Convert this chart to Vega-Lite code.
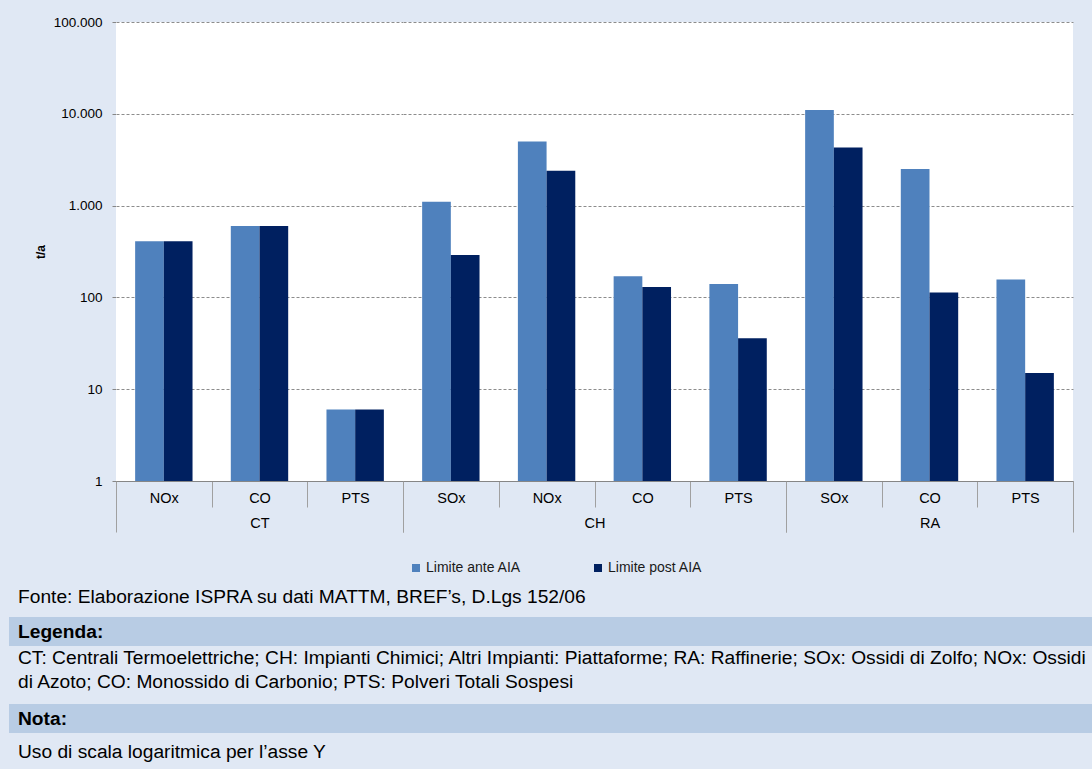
{
  "$schema": "https://vega.github.io/schema/vega-lite/v6.json",
  "background": "#e0e8f4",
  "padding": {"left": 9, "top": 15, "right": 0, "bottom": 0},
  "datasets": {
    "bars": [
      {"grp": "CT", "pol": "NOx", "serie": "Limite ante AIA", "val": 410},
      {"grp": "CT", "pol": "NOx", "serie": "Limite post AIA", "val": 410},
      {"grp": "CT", "pol": "CO", "serie": "Limite ante AIA", "val": 600},
      {"grp": "CT", "pol": "CO", "serie": "Limite post AIA", "val": 600},
      {"grp": "CT", "pol": "PTS", "serie": "Limite ante AIA", "val": 6},
      {"grp": "CT", "pol": "PTS", "serie": "Limite post AIA", "val": 6},
      {"grp": "CH", "pol": "SOx", "serie": "Limite ante AIA", "val": 1100},
      {"grp": "CH", "pol": "SOx", "serie": "Limite post AIA", "val": 290},
      {"grp": "CH", "pol": "NOx", "serie": "Limite ante AIA", "val": 5000},
      {"grp": "CH", "pol": "NOx", "serie": "Limite post AIA", "val": 2400},
      {"grp": "CH", "pol": "CO", "serie": "Limite ante AIA", "val": 170},
      {"grp": "CH", "pol": "CO", "serie": "Limite post AIA", "val": 130},
      {"grp": "CH", "pol": "PTS", "serie": "Limite ante AIA", "val": 140},
      {"grp": "CH", "pol": "PTS", "serie": "Limite post AIA", "val": 36},
      {"grp": "RA", "pol": "SOx", "serie": "Limite ante AIA", "val": 11000},
      {"grp": "RA", "pol": "SOx", "serie": "Limite post AIA", "val": 4300},
      {"grp": "RA", "pol": "CO", "serie": "Limite ante AIA", "val": 2500},
      {"grp": "RA", "pol": "CO", "serie": "Limite post AIA", "val": 113},
      {"grp": "RA", "pol": "PTS", "serie": "Limite ante AIA", "val": 157},
      {"grp": "RA", "pol": "PTS", "serie": "Limite post AIA", "val": 15}
    ]
  },
  "config": {
    "font": "Liberation Sans",
    "view": {"stroke": null},
    "axis": {"labelFont": "Liberation Sans", "titleFont": "Liberation Sans", "labelColor": "#000000", "titleColor": "#000000"},
    "axisX": {"titleY": 42, "titleBaseline": "middle", "titleFontWeight": "normal", "titleFontSize": 14.5,
      "labelAngle": 0, "labelFontSize": 14.5, "labelBaseline": "middle", "labelPadding": -34,
      "tickSize": 51, "tickBand": "extent", "tickColor": "#a0a0a0", "domainColor": "#868686", "grid": false,
      "tickDash": {"condition": {"test": "datum.index === 1 || datum.extra", "value": [60, 1]}, "value": [26, 60]}},
    "axisY": {"title": null, "labels": false, "ticks": false, "domain": false,
      "grid": true, "gridDash": [3, 2], "gridColor": "#8c8c8c"},
    "legend": {"labelFont": "Liberation Sans"}
  },
  "spacing": 44,
  "vconcat": [
    {
      "spacing": 0,
      "bounds": "flush",
      "hconcat": [
        {
          "width": 107, "height": 459,
          "data": {"name": "bars"},
          "mark": {"type": "point", "opacity": 0, "size": 0},
          "encoding": {
            "y": {"field": "val", "type": "quantitative",
              "scale": {"type": "log", "domain": [1, 100000], "nice": false},
              "axis": {"orient": "right", "grid": false, "domain": true, "domainColor": "#868686", "ticks": true, "tickSize": -4, "tickColor": "#868686",
                "labels": true, "labelAlign": "right", "labelBaseline": "middle", "labelPadding": -10, "labelFontSize": 13.5,
                "values": [1, 10, 100, 1000, 10000, 100000],
                "labelExpr": "datum.value >= 1000 ? format(datum.value / 1000, 'd') + '.000' : format(datum.value, 'd')",
                "title": "t/a", "titleX": -76, "titleY": 229.5, "titleAngle": 270, "titleAlign": "center", "titleBaseline": "middle",
                "titleFontSize": 12, "titleFontWeight": "bold"}}
          }
        },
        {
          "width": 287, "height": 459,
          "view": {"fill": "white", "stroke": null},
          "data": {"name": "bars"},
          "transform": [{"filter": "datum.grp === 'CT'"}],
          "mark": {"type": "bar"},
          "encoding": {
            "x": {"field": "pol", "type": "nominal", "sort": ["NOx", "CO", "PTS"],
              "scale": {"paddingInner": 0, "paddingOuter": 0}, "axis": {"title": "CT"}},
            "xOffset": {"field": "serie", "sort": ["Limite ante AIA", "Limite post AIA"], "scale": {"paddingInner": 0, "paddingOuter": 0.667}},
            "y": {"field": "val", "type": "quantitative", "stack": null,
              "scale": {"type": "log", "domain": [1, 100000], "nice": false},
              "axis": {"values": [1, 10, 100, 1000, 10000, 100000]}},
            "color": {"field": "serie", "type": "nominal",
              "scale": {"domain": ["Limite ante AIA", "Limite post AIA"], "range": ["#4f81bd", "#002060"]},
              "legend": {"orient": "none", "legendX": 400, "legendY": 539, "direction": "horizontal", "title": null,
                "symbolType": "square", "symbolSize": 64, "symbolStrokeWidth": 0, "labelFontSize": 14, "labelColor": "#1a1a1a",
                "columnPadding": 70, "labelOffset": 3}}
          }
        },
        {
          "width": 383, "height": 459,
          "view": {"fill": "white", "stroke": null},
          "data": {"name": "bars"},
          "transform": [{"filter": "datum.grp === 'CH'"}],
          "mark": {"type": "bar"},
          "encoding": {
            "x": {"field": "pol", "type": "nominal", "sort": ["SOx", "NOx", "CO", "PTS"],
              "scale": {"paddingInner": 0, "paddingOuter": 0}, "axis": {"title": "CH"}},
            "xOffset": {"field": "serie", "sort": ["Limite ante AIA", "Limite post AIA"], "scale": {"paddingInner": 0, "paddingOuter": 0.667}},
            "y": {"field": "val", "type": "quantitative", "stack": null,
              "scale": {"type": "log", "domain": [1, 100000], "nice": false},
              "axis": {"values": [1, 10, 100, 1000, 10000, 100000]}},
            "color": {"field": "serie", "type": "nominal",
              "scale": {"domain": ["Limite ante AIA", "Limite post AIA"], "range": ["#4f81bd", "#002060"]},
              "legend": {"orient": "none", "legendX": 400, "legendY": 539, "direction": "horizontal", "title": null,
                "symbolType": "square", "symbolSize": 64, "symbolStrokeWidth": 0, "labelFontSize": 14, "labelColor": "#1a1a1a",
                "columnPadding": 70, "labelOffset": 3}}
          }
        },
        {
          "width": 287, "height": 459,
          "view": {"fill": "white", "stroke": null},
          "data": {"name": "bars"},
          "transform": [{"filter": "datum.grp === 'RA'"}],
          "mark": {"type": "bar"},
          "encoding": {
            "x": {"field": "pol", "type": "nominal", "sort": ["SOx", "CO", "PTS"],
              "scale": {"paddingInner": 0, "paddingOuter": 0}, "axis": {"title": "RA"}},
            "xOffset": {"field": "serie", "sort": ["Limite ante AIA", "Limite post AIA"], "scale": {"paddingInner": 0, "paddingOuter": 0.667}},
            "y": {"field": "val", "type": "quantitative", "stack": null,
              "scale": {"type": "log", "domain": [1, 100000], "nice": false},
              "axis": {"values": [1, 10, 100, 1000, 10000, 100000]}},
            "color": {"field": "serie", "type": "nominal",
              "scale": {"domain": ["Limite ante AIA", "Limite post AIA"], "range": ["#4f81bd", "#002060"]},
              "legend": {"orient": "none", "legendX": 400, "legendY": 539, "direction": "horizontal", "title": null,
                "symbolType": "square", "symbolSize": 64, "symbolStrokeWidth": 0, "labelFontSize": 14, "labelColor": "#1a1a1a",
                "columnPadding": 70, "labelOffset": 3}}
          }
        }
      ]
    },
    {
      "spacing": 0,
      "vconcat": [
        {
          "width": 1083, "height": 40,
          "data": {"values": [{"t": "Fonte: Elaborazione ISPRA su dati MATTM, BREF’s, D.Lgs 152/06"}]},
          "mark": {"type": "text", "align": "left", "baseline": "middle", "fontSize": 19.2, "dx": 9, "color": "#000000"},
          "encoding": {"text": {"field": "t"}, "x": {"datum": 0, "type": "quantitative", "scale": {"domain": [0, 1]}, "axis": null}}
        },
        {
          "width": 1083, "height": 29,
          "view": {"fill": "#b8cce4", "stroke": null},
          "data": {"values": [{"t": "Legenda:"}]},
          "mark": {"type": "text", "align": "left", "baseline": "middle", "fontSize": 19.2, "fontWeight": "bold", "dx": 9, "color": "#000000"},
          "encoding": {"text": {"field": "t"}, "x": {"datum": 0, "type": "quantitative", "scale": {"domain": [0, 1]}, "axis": null}}
        },
        {
          "width": 1083, "height": 58,
          "data": {"values": [
            {"line": 1, "t": "CT: Centrali Termoelettriche; CH: Impianti Chimici; Altri Impianti: Piattaforme; RA: Raffinerie; SOx: Ossidi di Zolfo; NOx: Ossidi"},
            {"line": 2, "t": "di Azoto; CO: Monossido di Carbonio; PTS: Polveri Totali Sospesi"}
          ]},
          "mark": {"type": "text", "align": "left", "baseline": "middle", "fontSize": 19.2, "dx": 9, "color": "#000000"},
          "encoding": {
            "text": {"field": "t"},
            "x": {"datum": 0, "type": "quantitative", "scale": {"domain": [0, 1]}, "axis": null},
            "y": {"field": "line", "type": "ordinal", "scale": {"type": "band", "paddingInner": 0, "paddingOuter": 0.2083, "align": 0}, "axis": null}
          }
        },
        {
          "width": 1083, "height": 29,
          "view": {"fill": "#b8cce4", "stroke": null},
          "data": {"values": [{"t": "Nota:"}]},
          "mark": {"type": "text", "align": "left", "baseline": "middle", "fontSize": 19.2, "fontWeight": "bold", "dx": 9, "color": "#000000"},
          "encoding": {"text": {"field": "t"}, "x": {"datum": 0, "type": "quantitative", "scale": {"domain": [0, 1]}, "axis": null}}
        },
        {
          "width": 1083, "height": 37,
          "data": {"values": [{"t": "Uso di scala logaritmica per l’asse Y"}]},
          "mark": {"type": "text", "align": "left", "baseline": "middle", "fontSize": 19.2, "dx": 9, "color": "#000000"},
          "encoding": {"text": {"field": "t"}, "x": {"datum": 0, "type": "quantitative", "scale": {"domain": [0, 1]}, "axis": null}}
        }
      ]
    }
  ]
}
